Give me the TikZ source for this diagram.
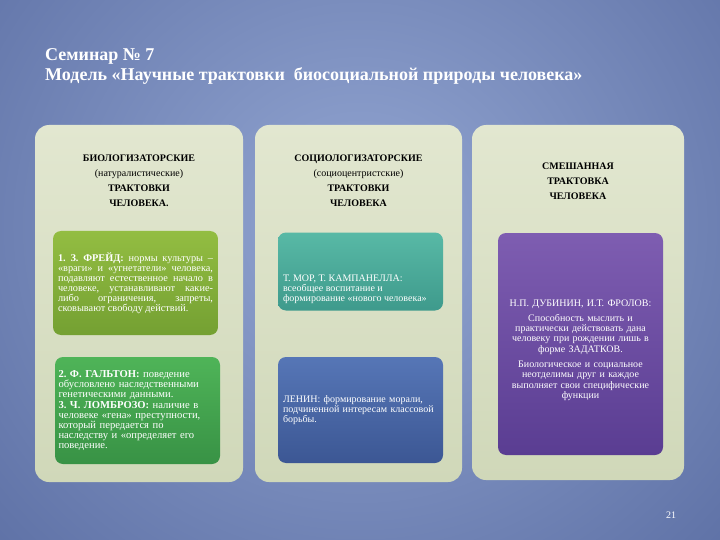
\documentclass[tikz,border=0pt]{standalone}
\usepackage{fontspec}
\setmainfont{Liberation Serif}
\usetikzlibrary{positioning}
\frenchspacing

\definecolor{bgin}{HTML}{93A6D2}
\definecolor{bgout}{HTML}{56699F}
\definecolor{panelhi}{HTML}{E2E7D0}
\definecolor{panello}{HTML}{D0D8B9}
\definecolor{freudhi}{HTML}{93BD42}
\definecolor{freudlo}{HTML}{74A032}
\definecolor{galtonhi}{HTML}{4FB458}
\definecolor{galtonlo}{HTML}{389245}
\definecolor{morhi}{HTML}{58B9A6}
\definecolor{morlo}{HTML}{3E9A8C}
\definecolor{leninhi}{HTML}{5676B6}
\definecolor{leninlo}{HTML}{3C5794}
\definecolor{dubhi}{HTML}{7E5DB1}
\definecolor{dublo}{HTML}{5A3D92}

\begin{document}
\begin{tikzpicture}[x=1pt, y=-1pt, node distance=10pt,
  panel/.style={rounded corners=14pt, top color=panelhi, bottom color=panello, inner sep=0pt},
  card/.style={rounded corners=8pt, inner sep=0pt, text=white, minimum width=165},
  head/.style={align=center, inner sep=0pt, font=\fontsize{10}{15}\selectfont},
  body/.style={font=\fontsize{10}{10.3}\selectfont},
  slidetitle/.style={anchor=base west, inner sep=0pt, text=white, font=\fontsize{18}{20}\selectfont\bfseries}]

  % фон слайда
  \useasboundingbox (0,0) rectangle (720,540);
  \begin{scope}
    \clip (0,0) rectangle (720,540);
    \fill[inner color=bgin, outer color=bgout] (-220,-330) rectangle (940,780);
  \end{scope}

  % заголовок
  \node[slidetitle] (seminar) at (45,61) {Семинар № 7};
  \node[slidetitle] (topic) at ([yshift=-20pt]seminar.base west) {Модель «Научные трактовки\ \ биосоциальной природы человека»};

  % три колонки
  \node[panel, minimum width=208, minimum height=357] (bio) at (139,303.5) {};
  \node[panel, minimum width=207, minimum height=357] (soc) at (358.5,303.5) {};
  \node[panel, minimum width=212, minimum height=355] (mix) at (578,302.5) {};

  % шапки колонок
  \node[head, below=30pt of bio.north] (biohead) {\textbf{БИОЛОГИЗАТОРСКИЕ}\\(натуралистические)\\\textbf{ТРАКТОВКИ}\\\textbf{ЧЕЛОВЕКА.}};
  \node[head, below=30pt of soc.north] (sochead) {\textbf{СОЦИОЛОГИЗАТОРСКИЕ}\\(социоцентристские)\\\textbf{ТРАКТОВКИ}\\\textbf{ЧЕЛОВЕКА}};
  \node[head, below=38pt of mix.north] (mixhead) {\textbf{СМЕШАННАЯ}\\\textbf{ТРАКТОВКА}\\\textbf{ЧЕЛОВЕКА}};

  % карточки первой колонки
  \node[card, top color=freudhi, bottom color=freudlo, minimum height=104, text width=155, align=justify, font=\fontsize{10.3}{10}\selectfont] (freud) at (135.5,283) {\textbf{1. З. ФРЕЙД:} нормы культуры –\linebreak «враги» и «угнетатели» человека,\linebreak подавляют естественное начало в\linebreak человеке, устанавливают какие-\linebreak либо ограничения, запреты,\linebreak сковывают свободу действий.};
  \node[card, top color=galtonhi, bottom color=galtonlo, minimum height=107, text width=158, align=left, font=\fontsize{10.6}{9.8}\selectfont] (galton) at (137.5,410.5) {\textbf{2. Ф. ГАЛЬТОН:} поведение\\обусловлено наследственными\\генетическими данными.\\[1.5pt]\textbf{3. Ч. ЛОМБРОЗО:} наличие в\\человеке «гена» преступности,\\который передается по\\наследству и «определяет его\\поведение.};

  % карточки второй колонки
  \node[card, top color=morhi, bottom color=morlo, minimum height=78] (mor) at (360.5,271.5) {};
  \node[body, text=white, align=left, anchor=north west, inner sep=0pt] (mortxt) at ([xshift=5pt, yshift=-42pt]mor.north west) {Т. МОР, Т. КАМПАНЕЛЛА:\\всеобщее воспитание и\\формирование «нового человека»};
  \node[card, body, top color=leninhi, bottom color=leninlo, minimum height=106, text width=155, align=left] (lenin) at (360.5,410) {ЛЕНИН: формирование морали,\\подчиненной интересам классовой\\борьбы.};

  % карточка третьей колонки
  \node[card, top color=dubhi, bottom color=dublo, minimum height=222] (dubinin) at (580.5,344) {};
  \node[body, text=white, text width=160, align=center, inner sep=0pt] (dubtxt) at ([yshift=-6pt]dubinin.center) {{\fontsize{10}{12}\selectfont Н.П. ДУБИНИН, И.Т. ФРОЛОВ:}\\[5pt]Способность мыслить и\\практически действовать дана\\человеку при рождении лишь в\\форме ЗАДАТКОВ.\\[5pt]Биологическое и социальное\\неотделимы друг и каждое\\выполняет свои специфические\\функции};

  % номер слайда
  \node[text=white, font=\fontsize{10}{12}\selectfont] (pagenum) at (671,515) {21};
\end{tikzpicture}
\end{document}
